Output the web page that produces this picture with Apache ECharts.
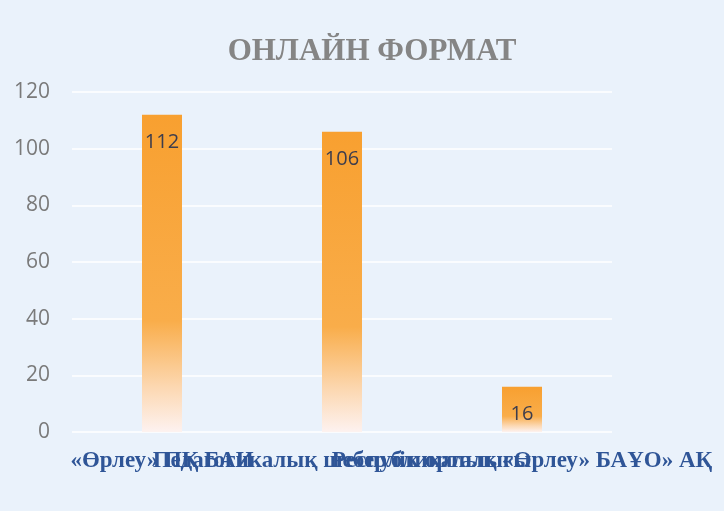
<!DOCTYPE html>
<html>
<head>
<meta charset="utf-8">
<script src="https://cdn.jsdelivr.net/npm/echarts@6/dist/echarts.min.js"></script>
<style>html,body{margin:0;padding:0;background:#eaf2fb;}#c{width:724px;height:511px;}</style>
</head>
<body>
<div id="c"></div>
<script>
const title = 'ОНЛАЙН ФОРМАТ';
const categories = ['«Өрлеу» ПҚ БАИ', 'Педагогикалық шеберлік орталығы', 'Республикалық «Өрлеу» БАҰО» АҚ'];
const values = [112, 106, 16];
const yTicks = [0, 20, 40, 60, 80, 100, 120];

const chart = echarts.init(document.getElementById('c'));
chart.setOption({
  backgroundColor: '#eaf2fb',
  title: {
    text: title, left: 367, top: 31, textAlign: 'center',
    textStyle: { fontFamily: 'Liberation Serif', fontWeight: 'bold', fontSize: 31, color: '#858585' }
  },
  grid: { left: 72, right: 112, top: 92, bottom: 79 },
  xAxis: {
    type: 'category', data: categories,
    axisLine: { show: false }, axisTick: { show: false },
    axisLabel: { interval: 0, margin: 18, fontFamily: 'Liberation Serif', fontWeight: 'bold', fontSize: 23, color: '#2f5597' }
  },
  yAxis: {
    type: 'value', min: yTicks[0], max: yTicks[yTicks.length - 1], interval: 20,
    axisLine: { show: false }, axisTick: { show: false },
    axisLabel: { margin: 22, fontFamily: 'Open Sans', fontSize: 21, color: '#7a7a7a' },
    splitLine: { lineStyle: { color: '#ffffff', width: 1.5 } }
  },
  series: [{
    type: 'bar', data: values, barWidth: 40,
    itemStyle: {
      color: new echarts.graphic.LinearGradient(0, 0, 0, 1, [
        { offset: 0, color: '#f8a030' },
        { offset: 0.65, color: '#f9ad4a' },
        { offset: 0.86, color: '#fcd8b2' },
        { offset: 1, color: '#fdf2f0' }
      ])
    },
    label: { show: true, position: 'insideTop', distance: 18, fontFamily: 'Open Sans', fontSize: 20, color: '#3d3d4d' }
  }]
});
</script>
</body>
</html>
